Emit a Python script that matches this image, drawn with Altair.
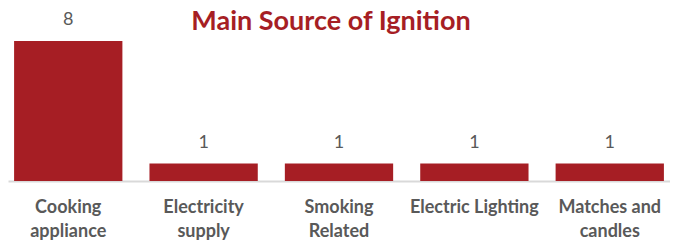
import altair as alt
import pandas as pd

title_text = ["Main Source of Ignition"]
categories = ["Cooking appliance", "Electricity supply", "Smoking Related",
              "Electric Lighting", "Matches and candles"]
counts = [8, 1, 1, 1, 1]

df = pd.DataFrame({"cat": categories, "n": counts})
tdf = pd.DataFrame({"t": title_text})

RED = "#A61E24"
GRAY = "#595959"
FONT = "Lato"
W, H = 662, 173

label_expr = ("datum.label == 'Electric Lighting' ? datum.label : "
              "[substring(datum.label, 0, lastindexof(datum.label, ' ')), "
              "substring(datum.label, lastindexof(datum.label, ' ') + 1)]")

x = alt.X("cat:N", sort=categories, title=None,
          scale=alt.Scale(paddingInner=0.2, paddingOuter=0.045),
          axis=alt.Axis(labelExpr=label_expr, labelAngle=0, labelFont=FONT,
                        labelFontSize=18, labelFontWeight="bold", labelColor=GRAY,
                        labelLineHeight=24, labelPadding=17, labelBaseline="top",
                        ticks=False, domainColor="#D9D9D9", domainWidth=2,
                        labelLimit=200))
y = alt.Y("n:Q", scale=alt.Scale(domain=[0, 9.886], nice=False), axis=None)

base = alt.Chart(df)
bars = base.mark_bar(color=RED).encode(x=x, y=y)
text = base.mark_text(dy=-16, baseline="alphabetic", font=FONT, fontSize=18,
                      color=GRAY).encode(x=alt.X("cat:N", sort=categories), y="n:Q",
                                         text="n:Q")
title = alt.Chart(tdf).mark_text(font=FONT, fontSize=27, fontWeight="bold", color=RED,
                                 baseline="alphabetic", align="center").encode(
    text="t:N", x=alt.value(W / 2 - 8), y=alt.value(22))

chart = (bars + text + title).properties(
    width=W, height=H,
    autosize=alt.AutoSizeParams(type="none"),
    padding={"left": 0, "top": 0, "right": 0, "bottom": 60},
).configure_view(stroke=None)

chart.save("out.html", embed_options={"renderer": "svg", "actions": False})
